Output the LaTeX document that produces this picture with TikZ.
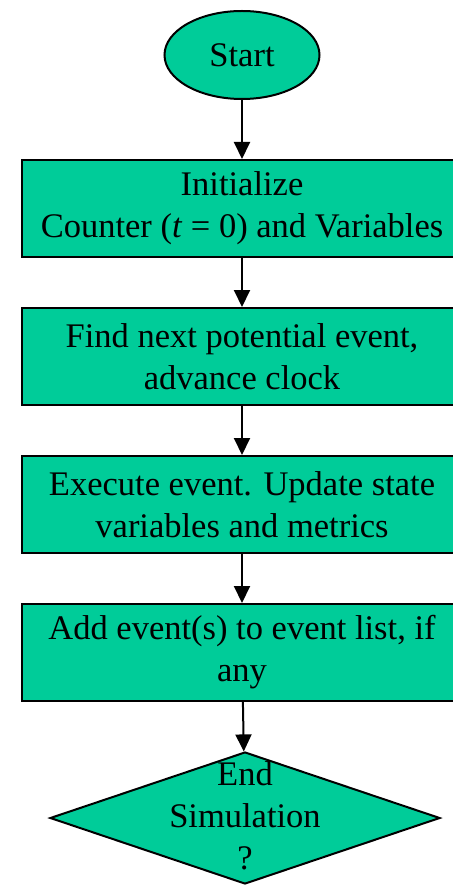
\documentclass[tikz,border=0pt]{standalone}
\usepackage{fontspec}
\setmainfont{Liberation Serif}
\usetikzlibrary{positioning}
\usetikzlibrary{shapes.geometric}
\usetikzlibrary{arrows.meta,chains}
\definecolor{flowgreen}{RGB}{0,204,153}
\tikzset{
	>={Triangle[width=16pt,length=17pt]},
	stepbox/.style={
		rectangle,
		fill=flowgreen,
		draw=black, line width=2pt,
		minimum width=440pt,
		minimum height=97pt,
		align=center,
		on chain},
	startstop/.style={
		ellipse,
		fill=flowgreen,
		draw=black, line width=2pt,
		minimum width=155pt,
		minimum height=88pt,
		inner sep=0pt,
		on chain},
	decision/.style={
		diamond,
		fill=flowgreen,
		draw=black, line width=2pt,
		minimum width=390pt,
		minimum height=132pt,
		inner sep=0pt,
		on chain},
	every join/.style={->, line width=2pt},
}

\begin{document}
\begin{tikzpicture}
	[node distance=49pt, start chain=going below,
	 font=\fontsize{34.5}{42}\selectfont]
	\useasboundingbox (0,0) rectangle (452pt,-885pt);
	\node[startstop] (start) at (242pt,-55pt) {Start};
	\node[stepbox, yshift=-10pt, join] (init) {Initialize\\Counter (\textit{t} = 0) and Variables};
	\node[stepbox, join] (advance) {Find next potential event,\\advance clock};
	\node[stepbox, join] (execute) {Execute event. Update state\\variables and metrics};
	\node[stepbox, join] (addevent) {Add event(s) to event list, if\\any};
	\node[decision, xshift=3pt, join,
		label={[align=center, yshift=2pt, font=\fontsize{34.5}{42}\selectfont]center:End\\Simulation\\?}] (endsim) {};
\end{tikzpicture}
\end{document}
